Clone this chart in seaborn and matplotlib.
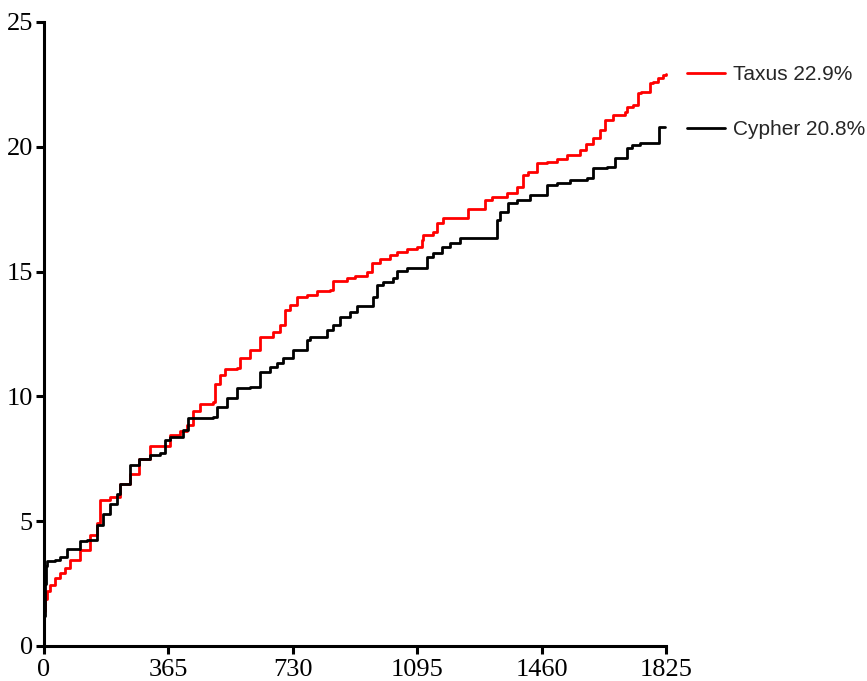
import matplotlib
matplotlib.use("Agg")
import matplotlib.pyplot as plt
import seaborn as sns
import pandas as pd

# ---- data ----
taxus_days = [0, 3, 10, 18, 32, 47, 62, 76, 106, 135, 155, 164, 194, 223, 252, 280, 311,
              370, 399, 420, 437, 458, 496, 502, 516, 531, 566, 575, 604, 634, 672, 692,
              707, 722, 742, 772, 801, 839, 848, 889, 912, 948, 962, 986, 1015, 1036, 1065,
              1094, 1109, 1112, 1141, 1153, 1171, 1244, 1294, 1314, 1358, 1387, 1406, 1420,
              1446, 1475, 1505, 1534, 1573, 1590, 1610, 1631, 1646, 1670, 1705, 1711, 1728,
              1743, 1752, 1778, 1787, 1802, 1816, 1825]
taxus_vals = [1.4, 1.9, 2.2, 2.44, 2.72, 2.92, 3.12, 3.45, 3.85, 4.45, 4.93, 5.85, 5.97, 6.5,
              6.9, 7.5, 8.0, 8.45, 8.6, 8.85, 9.4, 9.7, 9.78, 10.5, 10.85, 11.1, 11.15, 11.54,
              11.86, 12.38, 12.58, 12.86, 13.46, 13.66, 13.98, 14.06, 14.22, 14.26, 14.62,
              14.74, 14.82, 14.98, 15.34, 15.5, 15.66, 15.78, 15.9, 15.98, 16.27, 16.47,
              16.59, 16.95, 17.15, 17.5, 17.87, 18.0, 18.15, 18.4, 18.87, 19.0, 19.35, 19.4,
              19.5, 19.67, 19.87, 20.1, 20.35, 20.67, 21.07, 21.27, 21.4, 21.6, 21.67, 22.15,
              22.2, 22.55, 22.6, 22.75, 22.88, 22.9]

cypher_days = [0, 3, 6, 10, 32, 47, 67, 106, 125, 155, 173, 194, 214, 223, 252, 280, 311,
               340, 355, 370, 408, 423, 496, 507, 537, 566, 604, 634, 663, 683, 701, 731,
               772, 781, 830, 848, 869, 898, 918, 965, 977, 995, 1024, 1036, 1065, 1124,
               1141, 1168, 1191, 1221, 1329, 1338, 1361, 1387, 1426, 1475, 1505, 1543,
               1593, 1611, 1652, 1675, 1711, 1725, 1749, 1805, 1822]
cypher_vals = [1.2, 2.5, 3.2, 3.4, 3.45, 3.55, 3.9, 4.2, 4.25, 4.85, 5.3, 5.7, 6.1, 6.5,
               7.25, 7.5, 7.65, 7.73, 8.25, 8.37, 8.65, 9.13, 9.18, 9.58, 9.93, 10.33,
               10.38, 10.98, 11.18, 11.33, 11.54, 11.86, 12.26, 12.38, 12.66, 12.86, 13.18,
               13.38, 13.62, 13.98, 14.46, 14.58, 14.74, 15.02, 15.14, 15.58, 15.74, 15.98,
               16.14, 16.35, 17.07, 17.39, 17.75, 17.87, 18.07, 18.47, 18.55, 18.67, 18.75,
               19.15, 19.19, 19.55, 19.95, 20.07, 20.15, 20.8, 20.8]

series_labels = ["Taxus 22.9%", "Cypher 20.8%"]
series_colors = ["#ff0000", "#000000"]
x_ticks = [0, 365, 730, 1095, 1460, 1825]
y_ticks = [0, 5, 10, 15, 20, 25]

df = pd.concat([
    pd.DataFrame({"day": taxus_days, "value": taxus_vals, "group": series_labels[0]}),
    pd.DataFrame({"day": cypher_days, "value": cypher_vals, "group": series_labels[1]}),
], ignore_index=True)

sns.set_theme(style="white")
plt.rcParams["font.family"] = ["Liberation Serif", "DejaVu Serif"]

fig = plt.figure(figsize=(8.67, 6.81), dpi=100)
ax = fig.add_axes([44 / 867, 1 - 646 / 681, 622 / 867, 624 / 681])

sns.lineplot(data=df, x="day", y="value", hue="group", hue_order=series_labels,
             palette=series_colors, estimator=None, drawstyle="steps-post",
             linewidth=2.0, ax=ax, legend=True)

ax.set_xlim(0, 1825)
ax.set_ylim(0, 25)
ax.set_xticks(x_ticks)
ax.set_yticks(y_ticks)
ax.set_xlabel("")
ax.set_ylabel("")
for s in ["top", "right"]:
    ax.spines[s].set_visible(False)
for s in ["left", "bottom"]:
    ax.spines[s].set_linewidth(2.2)
    ax.spines[s].set_color("black")
    ax.spines[s].set_capstyle("projecting")
ax.tick_params(axis="both", direction="out", length=6, width=2.2, colors="black",
               labelsize=19, left=True, bottom=True)
ax.tick_params(axis="y", pad=2)
ax.tick_params(axis="x", pad=3)
for line in ax.lines:
    line.set_clip_on(False)

leg = ax.legend(loc="upper left", bbox_to_anchor=(1.034, 0.931), frameon=False,
                borderaxespad=0, borderpad=0, handlelength=1.83, handletextpad=0.35,
                labelspacing=1.74, prop={"family": "Liberation Sans", "size": 15})
for h in leg.get_lines():
    h.set_linewidth(2.0)

fig.savefig("out.png", dpi=100, facecolor="white")
